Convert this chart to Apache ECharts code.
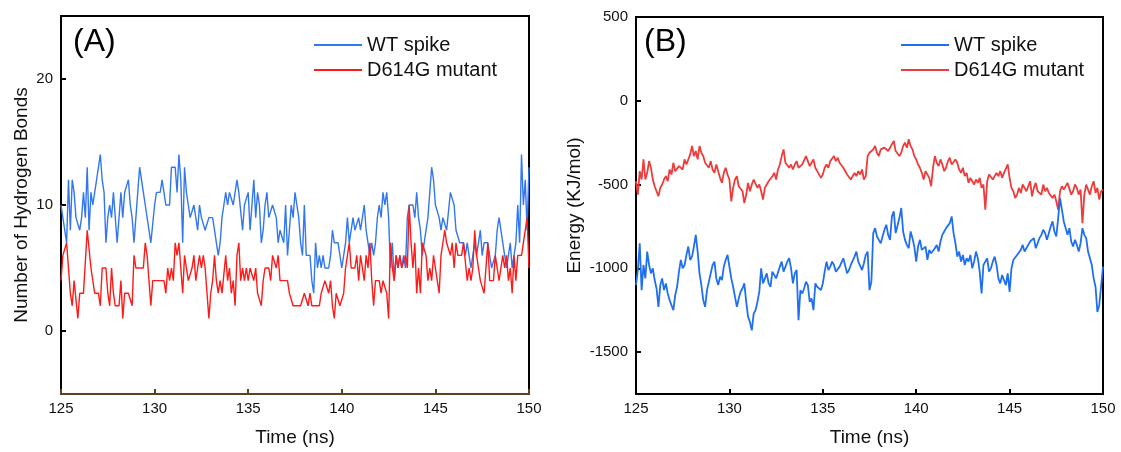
<!DOCTYPE html>
<html>
<head>
<meta charset="utf-8">
<script src="https://cdn.jsdelivr.net/npm/echarts@6/dist/echarts.min.js"></script>
<style>
html,body{margin:0;padding:0;background:#fff;}
#chart{width:1121px;height:452px;}
</style>
</head>
<body>
<div id="chart"></div>
<script>
// Time axis: 125 ns to 150 ns, one sample every 0.1 ns
const timeStart = 125;
const timeStep = 0.1;
const seriesNames = ['WT spike', 'D614G mutant'];
const xTicks = [125, 130, 135, 140, 145, 150];
const yTicksA = [0, 10, 20];
const yTicksB = [-1500, -1000, -500, 0, 500];

// Panel A: number of hydrogen bonds
const hbondWT = [
10,9,8,7,12,8,12,11,9,9,
8,9,11,9,13,8,11,10,11,12,
12,14,12,11,7,9,10,9,11,9,
7,9,11,9,11,11,12,10,9,7,
9,11,13,12,11,10,10,8,7,7,
10,11,11,11,12,11,10,10,10,13,
13,13,11,14,12,7,13,11,10,9,
9,10,10,8,10,9,9,8,8,9,
9,9,8,8,6,7,9,10,11,10,
11,11,10,11,12,11,11,8,10,10,
11,8,10,12,9,11,10,7,8,10,
11,9,9,10,10,9,7,8,8,7,
10,6,8,10,9,11,10,9,7,6,
10,6,6,6,4,3,7,5,6,5,
6,5,5,5,6,8,7,7,7,6,
5,5,7,9,7,8,9,8,8,9,
8,9,10,8,7,6,7,6,7,9,
10,9,11,10,11,9,5,7,4,6,
5,6,5,6,5,9,10,10,10,9,
11,9,8,6,7,8,9,11,13,12,
10,10,9,8,9,9,8,8,11,11,
10,8,8,7,7,7,6,7,7,5,
6,7,6,7,8,6,7,7,7,6,
5,5,6,8,9,8,7,6,5,6,
7,5,6,7,10,7,14,10,12,8,
13];
const hbondMut = [
4,6,6,7,5,3,2,4,4,1,
3,3,3,3,8,8,5,5,3,3,
3,2,5,5,5,3,2,5,3,2,
2,2,4,1,3,3,3,3,2,6,
5,5,5,5,5,7,6,4,2,4,
4,4,4,4,4,4,3,5,4,5,
4,7,6,7,5,3,6,5,4,4,
5,6,4,5,6,5,6,5,3,1,
3,4,6,4,3,4,3,3,6,4,
5,3,4,2,6,7,4,5,4,5,
4,5,5,4,5,3,3,2,4,5,
5,5,4,6,6,5,6,4,4,4,
4,4,3,3,2,2,2,2,2,2,
3,3,2,3,2,2,2,2,2,3,
3,4,4,3,4,2,1,3,3,2,
2,3,5,6,7,5,5,5,6,4,
6,5,4,6,5,7,4,2,4,4,
4,3,4,4,3,1,7,5,4,6,
5,6,5,5,6,5,10,7,5,7,
3,5,3,7,7,6,4,5,4,6,
5,4,3,6,7,8,7,7,6,7,
5,7,6,6,6,7,7,4,5,4,
5,8,6,5,4,4,3,5,7,4,
4,4,6,5,4,5,6,5,6,4,
5,3,6,4,6,6,6,6,8,9,
5];

// Panel B: interaction energy (KJ/mol)
const energyWT = [
-1100,-1010,-850,-1130,-980,-1060,-900,-980,-1030,-1000,
-1070,-1120,-1230,-1100,-1060,-1130,-1090,-1150,-1190,-1220,
-1250,-1160,-1110,-1020,-950,-1000,-980,-920,-870,-950,
-930,-870,-800,-900,-1030,-1100,-1190,-1230,-1130,-1080,
-1030,-980,-960,-1060,-1100,-1050,-1070,-990,-950,-920,
-930,-1060,-1110,-1170,-1230,-1180,-1140,-1120,-1090,-1200,
-1290,-1320,-1370,-1270,-1250,-1200,-1140,-1000,-1090,-1060,
-1030,-1090,-1110,-1020,-1010,-1060,-1070,-990,-960,-1020,
-1030,-960,-940,-1000,-1090,-1030,-1010,-1310,-1130,-1150,
-1120,-1080,-1100,-1200,-1180,-1250,-1090,-1110,-1100,-1130,
-1090,-1020,-960,-1010,-990,-960,-980,-1020,-1010,-990,
-980,-940,-950,-1030,-1010,-980,-990,-930,-900,-960,
-950,-1010,-970,-920,-900,-1130,-1080,-790,-760,-810,
-830,-850,-840,-770,-740,-800,-830,-690,-660,-790,
-800,-700,-640,-780,-830,-860,-880,-780,-820,-870,
-960,-870,-830,-890,-900,-870,-950,-890,-910,-920,
-880,-860,-900,-840,-800,-780,-760,-750,-730,-690,
-790,-850,-930,-900,-960,-920,-980,-940,-960,-920,
-1000,-960,-900,-940,-1020,-1150,-980,-960,-940,-1020,
-1000,-960,-930,-980,-1060,-1090,-1040,-1070,-1100,-1030,
-1140,-1000,-950,-960,-920,-930,-890,-860,-900,-880,
-860,-840,-850,-820,-880,-850,-820,-800,-770,-790,
-830,-790,-750,-720,-780,-810,-700,-580,-650,-720,
-760,-800,-760,-840,-870,-830,-860,-900,-850,-760,
-800,-820,-900,-910,-980,-1060,-1110,-1260,-1220,-1230,
-990];
const energyMut = [
-480,-560,-420,-470,-350,-470,-430,-360,-400,-470,
-510,-540,-570,-520,-500,-470,-450,-480,-410,-440,
-370,-420,-430,-390,-380,-410,-350,-380,-370,-320,
-270,-330,-300,-350,-270,-310,-330,-370,-380,-400,
-360,-410,-430,-380,-420,-460,-490,-430,-400,-440,
-470,-600,-520,-470,-450,-510,-500,-540,-610,-560,
-490,-540,-500,-470,-480,-520,-500,-540,-590,-520,
-500,-480,-470,-450,-430,-470,-410,-380,-330,-290,
-370,-360,-400,-380,-410,-380,-360,-400,-410,-380,
-390,-330,-360,-390,-370,-350,-400,-420,-410,-460,
-440,-400,-380,-400,-360,-370,-330,-360,-340,-370,
-360,-400,-390,-440,-430,-470,-460,-430,-450,-420,
-440,-410,-470,-450,-330,-310,-320,-290,-270,-310,
-330,-290,-300,-280,-270,-300,-310,-260,-240,-300,
-290,-330,-310,-270,-250,-280,-230,-270,-290,-330,
-350,-380,-400,-430,-470,-420,-410,-460,-510,-400,
-330,-370,-390,-350,-380,-420,-400,-360,-340,-380,
-390,-350,-370,-410,-430,-400,-450,-430,-490,-460,
-450,-500,-470,-490,-460,-520,-500,-650,-480,-440,
-430,-470,-460,-430,-450,-420,-460,-430,-440,-380,
-460,-520,-540,-580,-560,-520,-550,-500,-520,-540,
-530,-480,-570,-520,-490,-540,-530,-560,-500,-540,
-520,-550,-540,-580,-560,-600,-650,-540,-510,-530,
-520,-490,-500,-560,-540,-500,-520,-560,-530,-730,
-560,-500,-530,-560,-510,-480,-550,-520,-590,-540,
-530];

function toPairs(vals) {
  return vals.map(function (v, i) { return [+(timeStart + i * timeStep).toFixed(2), v]; });
}

const FONT = '"Liberation Sans", Arial, Helvetica, sans-serif';
const blueA = '#3377ee', redA = '#ff1a1a';
const blueB = '#1f6ff0', redB = '#ee3b3b';

function xAxisCfg(gridIndex, lineColor) {
  return {
    type: 'value', gridIndex: gridIndex, min: 125, max: 150, interval: 5,
    name: 'Time (ns)', nameLocation: 'middle', nameGap: 34,
    nameTextStyle: { fontFamily: FONT, fontSize: 19, color: '#111' },
    axisLine: { show: true, onZero: false, lineStyle: { color: lineColor, width: 2 } },
    axisTick: { show: true, inside: true, length: 5, lineStyle: { color: lineColor, width: 2 }, customValues: xTicks },
    axisLabel: { fontFamily: FONT, fontSize: 15, color: '#111', margin: 7, customValues: xTicks },
    splitLine: { show: false }
  };
}
function yAxisCfg(gridIndex, min, max, ticks, name, gap) {
  return {
    type: 'value', gridIndex: gridIndex, min: min, max: max,
    name: name, nameLocation: 'middle', nameGap: gap, nameRotate: 90,
    nameTextStyle: { fontFamily: FONT, fontSize: 19, color: '#111' },
    axisLine: { show: true, onZero: false, lineStyle: { color: '#000', width: 2 } },
    axisTick: { show: true, inside: true, length: 5, lineStyle: { color: '#000', width: 2 }, customValues: ticks },
    axisLabel: { fontFamily: FONT, fontSize: 15, color: '#111', margin: 8, customValues: ticks,
      formatter: function (v) { return String(v); } },
    splitLine: { show: false }
  };
}
function legendCfg(left, blue, red) {
  return {
    left: left, top: 30, orient: 'vertical', itemWidth: 48, itemHeight: 2, itemGap: 5,
    icon: 'rect',
    textStyle: { fontFamily: FONT, fontSize: 20, color: '#111', lineHeight: 20, height: 20 },
    data: [
      { name: seriesNames[0], icon: 'rect', itemStyle: { color: blue } },
      { name: seriesNames[1], icon: 'rect', itemStyle: { color: red } }
    ],
    selectedMode: false
  };
}
function lineSeries(name, data, color, width, idx, z) {
  return {
    name: name, type: 'line', data: toPairs(data), xAxisIndex: idx, yAxisIndex: idx,
    symbol: 'none', showSymbol: false, animation: false, z: z,
    lineStyle: { color: color, width: width }, itemStyle: { color: color }
  };
}

const chart = echarts.init(document.getElementById('chart'), null, { renderer: 'canvas' });
chart.setOption({
  animation: false,
  backgroundColor: '#fff',
  grid: [
    { left: 61, top: 16, width: 468, height: 379, show: true, borderColor: '#000', borderWidth: 2, containLabel: false },
    { left: 636, top: 17, width: 467, height: 379, show: true, borderColor: '#000', borderWidth: 2, containLabel: false }
  ],
  xAxis: [xAxisCfg(0, '#5a4420'), xAxisCfg(1, '#000')],
  yAxis: [
    yAxisCfg(0, -5, 25, yTicksA, 'Number of Hydrogen Bonds', 30),
    yAxisCfg(1, -1750, 500, yTicksB, 'Energy (KJ/mol)', 52)
  ],
  legend: [legendCfg(309, blueA, redA), legendCfg(896, blueB, redB)],
  graphic: [
    { type: 'text', left: 73, top: 26, style: { text: '(A)', fontSize: 32, fontFamily: FONT, fill: '#000' } },
    { type: 'text', left: 644, top: 26, style: { text: '(B)', fontSize: 32, fontFamily: FONT, fill: '#000' } }
  ],
  series: [
    lineSeries(seriesNames[0], hbondWT, blueA, 1.4, 0, 2),
    lineSeries(seriesNames[1], hbondMut, redA, 1.4, 0, 3),
    lineSeries(seriesNames[0], energyWT, blueB, 1.8, 1, 3),
    lineSeries(seriesNames[1], energyMut, redB, 1.8, 1, 2)
  ]
});
</script>
</body>
</html>
